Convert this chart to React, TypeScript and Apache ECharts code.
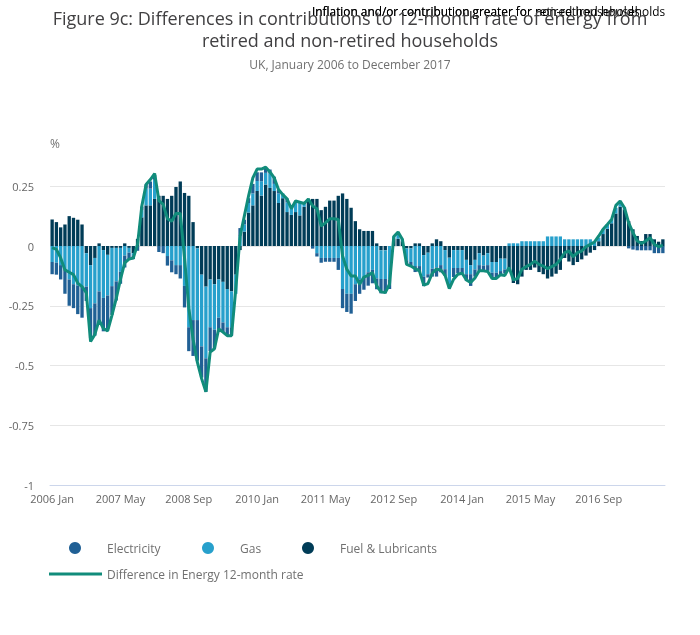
import React, { useEffect, useRef } from "react";
import * as echarts from "echarts";

const MONTHS = ["Jan", "Feb", "Mar", "Apr", "May", "Jun", "Jul", "Aug", "Sep", "Oct", "Nov", "Dec"];
const YEARS = [2006, 2007, 2008, 2009, 2010, 2011, 2012, 2013, 2014, 2015, 2016, 2017];
const CATEGORIES = YEARS.flatMap((y) => MONTHS.map((m) => `${y} ${m}`));

const FUEL = [
  0.111, 0.1, 0.078, 0.09, 0.125, 0.118, 0.11, 0.09, -0.03, -0.08, -0.05, 0.011,
  -0.017, -0.037, -0.008, -0.008, -0.008, 0.011, -0.008, -0.03, 0.03, 0.12, 0.17, 0.17,
  0.197, 0.21, 0.21, 0.197, 0.21, 0.247, 0.27, 0.222, 0.21, 0.1, -0.01, -0.12,
  -0.17, -0.14, -0.16, -0.14, -0.15, -0.18, -0.19, -0.12, -0.017, 0.06, 0.14, 0.17,
  0.23, 0.211, 0.257, 0.243, 0.23, 0.18, 0.2, 0.142, 0.13, 0.142, 0.128, 0.164,
  0.197, 0.197, 0.197, 0.15, 0.164, 0.19, 0.19, 0.21, 0.22, 0.197, 0.16, 0.104,
  0.07, 0.063, 0.063, 0.063, 0.011, -0.018, -0.018, 0, 0.03, 0.03, 0.02, -0.01,
  -0.01, 0.011, 0.011, -0.038, -0.028, 0.011, 0.028, 0.02, -0.017, -0.049, -0.017, -0.017,
  -0.017, -0.058, -0.08, -0.058, -0.03, -0.04, -0.03, -0.067, -0.067, -0.053, -0.053, -0.1,
  -0.155, -0.16, -0.128, -0.1, -0.1, -0.09, -0.109, -0.118, -0.136, -0.128, -0.116, -0.1,
  -0.05, -0.065, -0.08, -0.067, -0.056, -0.04, -0.028, -0.017, 0.02, 0.05, 0.072, 0.095,
  0.136, 0.164, 0.153, 0.104, 0.07, 0.042, 0.021, 0.05, 0.05, 0.028, 0.018, 0.028,
];

const GAS = [
  -0.067, -0.07, -0.08, -0.1, -0.14, -0.16, -0.165, -0.17, -0.14, -0.18, -0.19, -0.19,
  -0.2, -0.17, -0.16, -0.14, -0.1, -0.04, -0.02, -0.01, 0, 0.03, 0.07, 0.07,
  0.08, 0, 0, -0.042, -0.06, -0.08, -0.08, -0.167, -0.34, -0.31, -0.3, -0.3,
  -0.3, -0.2, -0.19, -0.16, -0.17, -0.16, -0.15, -0.08, 0.04, 0.03, 0.04, 0.05,
  0.042, 0.06, 0.049, 0.06, 0.03, 0.04, 0.02, 0.04, 0.026, 0.04, 0.055, 0.017,
  0, 0, -0.03, -0.05, -0.05, -0.05, -0.05, -0.05, -0.18, -0.2, -0.2, -0.16,
  -0.14, -0.133, -0.11, -0.1, -0.136, -0.12, -0.12, -0.14, 0.01, 0.02, 0.01, -0.05,
  -0.057, -0.084, -0.084, -0.09, -0.09, -0.095, -0.09, -0.08, -0.08, -0.11, -0.075, -0.075,
  -0.075, -0.06, -0.038, -0.04, -0.05, -0.042, -0.05, -0.045, -0.045, -0.052, -0.045, 0.011,
  0.011, 0.011, 0.02, 0.02, 0.02, 0.02, 0.02, 0.02, 0.04, 0.04, 0.04, 0.04,
  0.028, 0.028, 0.028, 0.028, 0.028, 0.028, 0.028, 0.02, 0.015, 0.02, 0.018, 0.017,
  0.024, 0.017, 0.01, 0, 0, 0, 0, 0, 0, 0, 0, 0,
];

const ELECTRICITY = [
  -0.051, -0.05, -0.06, -0.1, -0.11, -0.1, -0.12, -0.13, -0.06, -0.125, -0.135, -0.13,
  -0.14, -0.14, -0.12, -0.08, -0.05, -0.05, -0.03, -0.015, -0.02, 0.015, 0.018, 0.03,
  0.02, -0.025, -0.03, -0.04, -0.05, -0.038, -0.056, -0.09, -0.1, -0.15, -0.17, -0.13,
  -0.14, -0.1, -0.08, -0.05, -0.04, -0.035, -0.035, 0, 0.035, 0.02, 0.02, 0.04,
  0.037, 0.037, 0.017, 0.017, 0.03, 0.014, 0, 0.017, 0, 0, 0, 0,
  0, -0.011, -0.014, -0.02, -0.016, -0.016, -0.016, -0.05, -0.08, -0.076, -0.083, -0.07,
  -0.06, -0.05, -0.056, -0.056, -0.045, -0.06, -0.06, -0.04, 0, 0.008, 0, -0.015,
  -0.015, -0.025, -0.025, -0.04, -0.014, -0.033, -0.038, -0.03, -0.028, -0.014, -0.038, -0.021,
  -0.021, -0.028, -0.049, -0.03, -0.024, -0.024, -0.024, -0.021, -0.021, -0.014, -0.017, 0,
  0, 0, 0, 0, 0, 0, 0, 0, 0, 0, 0, 0,
  0, 0, 0, 0, 0, 0, 0, 0, 0, 0, 0, 0,
  0, 0, 0, -0.01, -0.015, -0.018, -0.018, -0.018, -0.018, -0.03, -0.03, -0.03,
];

const DIFFERENCE = [
  -0.007, -0.014, -0.05, -0.1, -0.11, -0.12, -0.155, -0.17, -0.195, -0.4, -0.37, -0.31,
  -0.345, -0.355, -0.29, -0.22, -0.14, -0.07, -0.055, -0.05, 0.007, 0.167, 0.257, 0.278,
  0.303, 0.19, 0.174, 0.114, 0.104, 0.136, 0.136, -0.05, -0.26, -0.39, -0.486, -0.555,
  -0.61, -0.444, -0.43, -0.347, -0.36, -0.375, -0.375, -0.18, 0.04, 0.125, 0.21, 0.285,
  0.322, 0.322, 0.33, 0.31, 0.285, 0.236, 0.215, 0.197, 0.156, 0.188, 0.183, 0.178,
  0.197, 0.167, 0.156, 0.083, 0.097, 0.114, 0.114, 0.111, -0.042, -0.097, -0.125, -0.125,
  -0.16, -0.13, -0.123, -0.111, -0.167, -0.192, -0.195, -0.16, 0.04, 0.058, 0.028, -0.077,
  -0.084, -0.095, -0.104, -0.164, -0.157, -0.114, -0.097, -0.1, -0.123, -0.178, -0.139, -0.118,
  -0.114, -0.142, -0.153, -0.134, -0.104, -0.104, -0.107, -0.136, -0.136, -0.12, -0.123, -0.09,
  -0.142, -0.136, -0.097, -0.086, -0.077, -0.063, -0.077, -0.084, -0.095, -0.086, -0.077, -0.056,
  -0.028, -0.021, -0.045, -0.028, -0.021, -0.003, 0.007, 0.017, 0.042, 0.07, 0.09, 0.111,
  0.17, 0.188, 0.16, 0.097, 0.056, 0.021, 0.011, 0.021, 0.035, 0.007, -0.003, 0.003,
];

const FONT = "'Open Sans', sans-serif";

export default function App() {
  const ref = useRef<HTMLDivElement>(null);

  useEffect(() => {
    if (!ref.current) return;
    const chart = echarts.init(ref.current, undefined, { renderer: "svg" });
    const legendText = { fontFamily: FONT, fontSize: 12, color: "#707070" };
    const circleLegend = (name: string, left: number) => ({
      data: [name],
      left,
      top: 542,
      padding: 0,
      icon: "circle",
      itemWidth: 54,
      itemHeight: 12,
      textStyle: legendText,
    });
    chart.setOption({
      animation: false,
      textStyle: { fontFamily: FONT },
      title: {
        text: "Figure 9c: Differences in contributions to 12-month rate of energy from\nretired and non-retired households",
        subtext: "UK, January 2006 to December 2017",
        left: "center",
        top: 7,
        itemGap: 6,
        padding: 0,
        textStyle: { fontFamily: FONT, fontSize: 18, fontWeight: "normal", color: "#414042", lineHeight: 22, align: "center" },
        subtextStyle: { fontFamily: FONT, fontSize: 12, color: "#707070", lineHeight: 15, align: "center" },
      },
      graphic: [
        {
          type: "text",
          x: 312,
          y: 11,
          style: {
            text: "Inflation and/or contribution greater for retired households",
            fontFamily: FONT,
            fontSize: 11.85,
            fill: "#000000",
            verticalAlign: "middle",
          },
        },
        {
          type: "text",
          x: 312,
          y: 11,
          style: {
            text: "Inflation and/or contribution greater for non-retired households",
            fontFamily: FONT,
            fontSize: 11.85,
            fill: "#000000",
            verticalAlign: "middle",
          },
        },
        {
          type: "text",
          x: 50,
          y: 143,
          style: { text: "%", fontFamily: FONT, fontSize: 12, fill: "#707070", verticalAlign: "middle" },
        },
      ],
      legend: [
        circleLegend("Electricity", 69),
        circleLegend("Gas", 202),
        circleLegend("Fuel & Lubricants", 302),
        {
          data: ["Difference in Energy 12-month rate"],
          left: 49,
          top: 568,
          padding: 0,
          icon: "rect",
          itemWidth: 53,
          itemHeight: 3,
          textStyle: legendText,
        },
      ],
      grid: { left: 50, right: 35, top: 150.4, bottom: 150, containLabel: false },
      xAxis: {
        type: "category",
        data: CATEGORIES,
        position: "bottom",
        axisLine: { onZero: false, lineStyle: { color: "#ccd6eb", width: 1 } },
        axisTick: { alignWithLabel: true, interval: 15, length: 8, lineStyle: { color: "#ccd6eb" } },
        axisLabel: { interval: 15, margin: 8, fontFamily: FONT, fontSize: 11, color: "#666666" },
        splitLine: { show: false },
      },
      yAxis: {
        type: "value",
        min: -1,
        max: 0.4,
        interval: 0.25,
        axisLine: { show: false },
        axisTick: { show: false },
        axisLabel: {
          margin: 16,
          fontFamily: FONT,
          fontSize: 11,
          color: "#666666",
          showMaxLabel: false,
          formatter: (v: number) => (v > 0.3 ? "" : String(Math.round(v * 100) / 100)),
        },
        splitLine: {
          lineStyle: {
            color: ["#e6e6e6", "#e6e6e6", "#e6e6e6", "#e6e6e6", "#e6e6e6", "#e6e6e6", "rgba(0,0,0,0)"],
            width: 1,
          },
        },
      },
      series: [
        {
          name: "Fuel & Lubricants",
          type: "bar",
          stack: "energy",
          data: FUEL,
          barCategoryGap: "22%",
          itemStyle: { color: "#003c57" },
        },
        {
          name: "Gas",
          type: "bar",
          stack: "energy",
          data: GAS,
          barCategoryGap: "22%",
          itemStyle: { color: "#27a0cc" },
        },
        {
          name: "Electricity",
          type: "bar",
          stack: "energy",
          data: ELECTRICITY,
          barCategoryGap: "22%",
          itemStyle: { color: "#206095" },
        },
        {
          name: "Difference in Energy 12-month rate",
          type: "line",
          data: DIFFERENCE,
          symbol: "none",
          z: 5,
          lineStyle: { color: "#118c7b", width: 3 },
          itemStyle: { color: "#118c7b" },
        },
      ],
    });
    return () => chart.dispose();
  }, []);

  return <div ref={ref} style={{ position: "fixed", left: 0, top: 0, width: 700, height: 635 }} />;
}
